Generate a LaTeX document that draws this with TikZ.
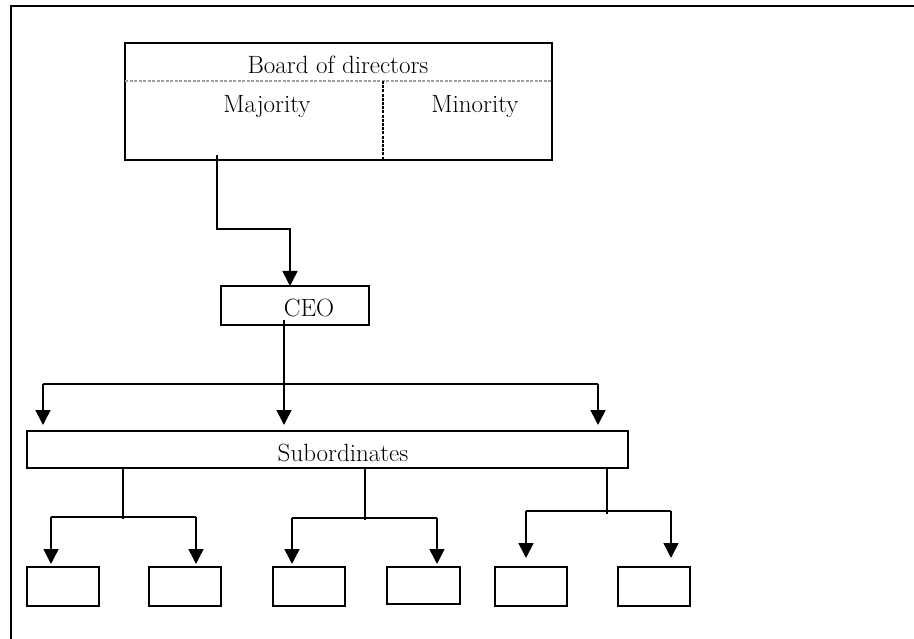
\documentclass[tikz,border=0pt]{standalone}
\usetikzlibrary{arrows.meta}
\begin{document}
\begin{tikzpicture}[x=1pt,y=-1pt,
  frame/.style={line width=2.4pt},
  boxstyle/.style={draw,line width=2.2pt,inner sep=0pt,outer sep=0pt},
  smallbox/.style={draw,line width=2pt,inner sep=0pt,outer sep=0pt,minimum width=72pt,minimum height=39pt},
  lbl/.style={inner sep=0pt,anchor=base,font=\fontsize{25}{29}\selectfont},
  conn/.style={line width=1.6pt},
  arr/.style={line width=1.6pt,-{Triangle[width=15pt,length=15pt]}},
  dashh/.style={line width=1.2pt,gray!75,dash pattern=on 3pt off 1.5pt},
  dashv/.style={line width=1.5pt,dash pattern=on 3pt off 1.2pt}]
\useasboundingbox (0,0) rectangle (914,639);
% outer frame (top and left edges)
\draw[frame] (914,6) -- (11,6) -- (11,639);
% board of directors
\node[boxstyle,minimum width=427pt,minimum height=117pt] (board) at (338.5,101.5) {};
\coordinate (dl) at (125,81);
\coordinate (dr) at (552,81);
\coordinate (dv) at (383,81);
\draw[dashh] (dl) -- (dr);
\draw[dashv] (dv) -- (dv |- board.south);
\node[lbl] (tboard) at (338,74) {Board of directors};
\node[lbl] (tmaj) at (267,113) {Majority};
\node[lbl] (tmin) at (475,113) {Minority};
% CEO
\node[boxstyle,minimum width=148pt,minimum height=39pt] (ceo) at (295,305.5) {};
\node[lbl] (tceo) at (309,317) {CEO};
\coordinate (b1) at (217,229);
\draw[arr] ([yshift=5pt]board.south -| b1) -- (b1) -| ([xshift=-5pt]ceo.north);
% subordinates
\node[boxstyle,minimum width=601pt,minimum height=37pt] (sub) at (327.5,449.5) {};
\node[lbl] (tsub) at (343,461) {Subordinates};
\coordinate (hl) at (43,384);
\coordinate (hr) at (598,384);
\coordinate (hm) at (284,384);
\draw[conn] (hl) -- (hr);
\draw[arr] ([yshift=5pt]ceo.south -| hm) -- ([yshift=6pt]sub.north -| hm);
\draw[arr] (hl) -- ([yshift=6pt]sub.north -| hl);
\draw[arr] (hr) -- ([yshift=6pt]sub.north -| hr);
% bottom boxes
\node[smallbox] (s1) at (63,586.5) {};
\node[smallbox] (s2) at (185,586.5) {};
\node[smallbox] (s3) at (308.5,586.5) {};
\node[smallbox,minimum width=73pt,minimum height=37pt] (s4) at (423.5,585.5) {};
\node[smallbox] (s5) at (531,586.5) {};
\node[smallbox] (s6) at (654,586.5) {};
% group 1
\coordinate (g1) at (123,519);
\coordinate (g1l) at (51,517);
\coordinate (g1r) at (196,517);
\draw[conn] (sub.south -| g1) -- (g1);
\draw[conn] (g1l) -- (g1r);
\draw[arr] (g1l) -- ([yshift=3pt]s1.north -| g1l);
\draw[arr] (g1r) -- ([yshift=3pt]s2.north -| g1r);
% group 2
\coordinate (g2) at (365,520);
\coordinate (g2l) at (292,518);
\coordinate (g2r) at (437,518);
\draw[conn] (sub.south -| g2) -- (g2);
\draw[conn] (g2l) -- (g2r);
\draw[arr] (g2l) -- ([yshift=3pt]s3.north -| g2l);
\draw[arr] (g2r) -- ([yshift=3pt]s4.north -| g2r);
% group 3
\coordinate (g3) at (607,514);
\coordinate (g3l) at (526,511);
\coordinate (g3r) at (671,511);
\draw[conn] (sub.south -| g3) -- (g3);
\draw[conn] (g3l) -- (g3r);
\draw[arr] (g3l) -- ([yshift=9pt]s5.north -| g3l);
\draw[arr] (g3r) -- ([yshift=9pt]s6.north -| g3r);
\end{tikzpicture}
\end{document}
